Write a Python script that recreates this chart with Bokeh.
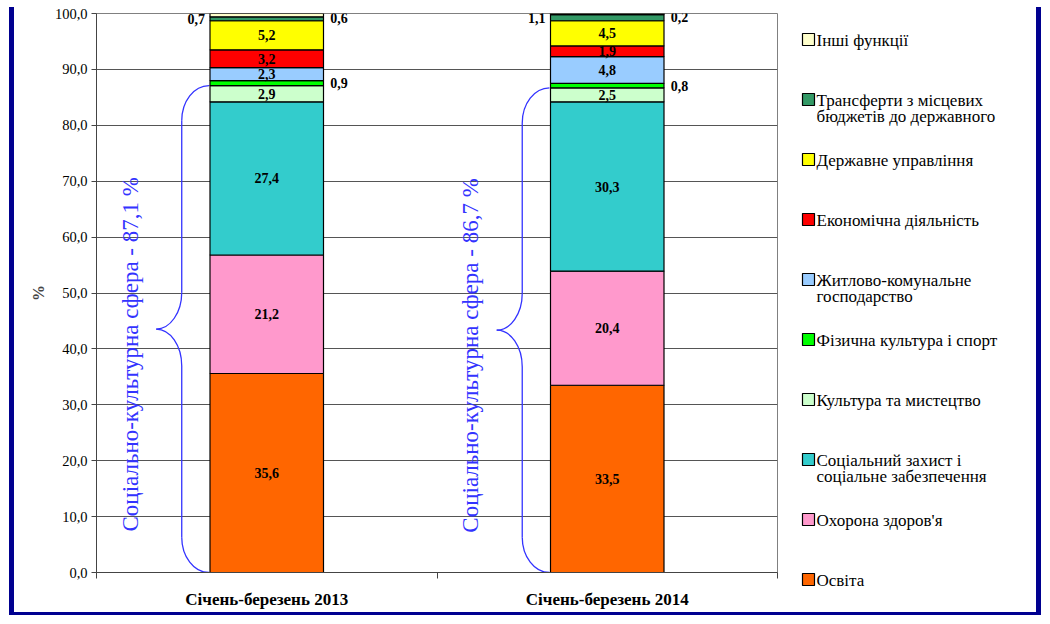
import math
from bokeh.plotting import figure
from bokeh.layouts import row, column
from bokeh.models import ColumnDataSource, FixedTicker, Range1d, Spacer
from bokeh.core.properties import value
from bokeh.embed import file_html
from bokeh.resources import INLINE

# ---------------- data ----------------
categories = ["Січень-березень 2013", "Січень-березень 2014"]
series = [
    "Освіта",
    "Охорона здоров'я",
    "Соціальний захист і\nсоціальне забезпечення",
    "Культура та мистецтво",
    "Фізична культура і спорт",
    "Житлово-комунальне\nгосподарство",
    "Економічна діяльність",
    "Державне управління",
    "Трансферти з місцевих\nбюджетів до державного",
    "Інші функції",
]
v2013 = [35.6, 21.2, 27.4, 2.9, 0.9, 2.3, 3.2, 5.2, 0.7, 0.6]
v2014 = [33.5, 20.4, 30.3, 2.5, 0.8, 4.8, 1.9, 4.5, 1.1, 0.2]
colors = ["#FF6600", "#FF99CC", "#33CCCC", "#CCFFCC", "#00FF00",
          "#99CCFF", "#FF0000", "#FFFF00", "#339966", "#FFFFCC"]
y_ticks = [0, 10, 20, 30, 40, 50, 60, 70, 80, 90, 100]
social_count = 4  # first four series form the social-cultural sphere

FONT = value("Liberation Serif")
BLUE = "#3333FF"
NAVY = "#000090"

values = [v2013, v2014]
keys = [f"s{i}" for i in range(len(series))]
xs = [i + 0.5 for i in range(len(categories))]
data = {"x": xs}
for i, k in enumerate(keys):
    data[k] = [values[c][i] for c in range(len(categories))]
source = ColumnDataSource(data)

H = 605
TOPB = 6
BOTB = 40
p = figure(width=773, height=H, x_range=(0, 2), y_range=(0, 100),
           output_backend="svg", toolbar_location=None,
           min_border_left=82, min_border_right=10, min_border_top=TOPB,
           min_border_bottom=BOTB)
p.background_fill_color = "white"
p.border_fill_color = "white"
p.outline_line_color = "#808080"
p.outline_line_width = 1

# grid
p.xgrid.visible = False
p.ygrid.ticker = FixedTicker(ticks=y_ticks)
p.ygrid.grid_line_color = "#555555"
p.ygrid.grid_line_width = 1

# y axis
p.yaxis.ticker = FixedTicker(ticks=y_ticks)
p.yaxis.major_label_overrides = {t: f"{t:.1f}".replace(".", ",") for t in y_ticks}
p.yaxis.major_label_text_font = "Liberation Serif"
p.yaxis.major_label_text_font_size = "14.5px"
p.yaxis.major_label_text_color = "black"
p.yaxis.major_tick_out = 5
p.yaxis.major_tick_in = 0
p.yaxis.minor_tick_line_color = None
p.yaxis.axis_line_color = "#444444"
p.yaxis.major_tick_line_color = "#444444"
p.yaxis.major_label_standoff = 4
p.yaxis.axis_label = "%"
p.yaxis.axis_label_text_font = "Liberation Serif"
p.yaxis.axis_label_text_font_style = "bold"
p.yaxis.axis_label_text_font_size = "16px"
p.yaxis.axis_label_standoff = 5

# x axis
p.xaxis.ticker = FixedTicker(ticks=xs, minor_ticks=[0, 1, 2])
p.xaxis.major_label_overrides = {x: c for x, c in zip(xs, categories)}
p.xaxis.major_label_text_font = "Liberation Serif"
p.xaxis.major_label_text_font_style = "bold"
p.xaxis.major_label_text_font_size = "17px"
p.xaxis.major_label_text_color = "black"
p.xaxis.major_tick_out = 0
p.xaxis.major_tick_in = 0
p.xaxis.minor_tick_out = 6
p.xaxis.minor_tick_in = 0
p.xaxis.minor_tick_line_color = "#444444"
p.xaxis.axis_line_color = "#444444"
p.xaxis.major_label_standoff = 11

# stacked bars
renderers = p.vbar_stack(keys, x="x", width=1 / 3, color=colors, source=source,
                         line_color="black", line_width=1.2)

# value labels
side = {4: "right", 8: "left", 9: "right"}
lab = {"center": ([], [], []), "left": ([], [], []), "right": ([], [], [])}
for c in range(len(categories)):
    cum = 0.0
    for i in range(len(series)):
        v = values[c][i]
        mid = cum + v / 2
        cum += v
        s = side.get(i, "center")
        if s == "center":
            x = xs[c]
        elif s == "left":
            x = xs[c] - 1 / 6 - 0.015
        else:
            x = xs[c] + 1 / 6 + 0.02
        if i == 9:
            mid -= 0.45
        lab[s][0].append(x)
        lab[s][1].append(mid)
        lab[s][2].append(f"{v:.1f}".replace(".", ","))
for s, al in (("center", "center"), ("left", "right"), ("right", "left")):
    p.text(x=lab[s][0], y=lab[s][1], text=lab[s][2], text_font=FONT,
           text_font_style="bold", text_font_size="14px", text_align=al,
           text_baseline="middle", text_color="black")

# braces for the social-cultural sphere
for c in range(len(categories)):
    S = sum(values[c][:social_count])
    L = xs[c] - 1 / 6
    xe = L - 0.003
    xv = L - 0.083
    xt = L - 0.158
    h = 6.3
    m = S / 2
    h2 = 6.6
    k = 0.552
    dx = xe - xv
    dt = xv - xt
    p.bezier(x0=[xe, xv, xv, xv],
             y0=[S, m + h2, m - h2, h],
             x1=[xv, xt, xt, xe],
             y1=[S - h, m, m, 0],
             cx0=[xe - k * dx, xv, xv, xv],
             cy0=[S, m + h2 - k * h2, m - h2 + k * h2, h - k * h],
             cx1=[xv, xt + k * dt, xt + k * dt, xe - k * dx],
             cy1=[S - h + k * h, m, m, 0],
             line_color=BLUE, line_width=1.3)
    p.segment(x0=[xv, xv], y0=[S - h, m - h2], x1=[xv, xv], y1=[m + h2, h],
              line_color=BLUE, line_width=1.3)
    txt = "Соціально-культурна сфера  - " + f"{S:.1f}".replace(".", ",") + " %"
    p.text(x=[L - 0.234], y=[m - 4.0], text=[txt], angle=math.pi / 2,
           text_font=FONT, text_font_size="23px", text_align="center",
           text_baseline="middle", text_color=BLUE)

# ---------------- legend panel ----------------
LW = 249
lg = figure(width=LW, height=H, x_range=Range1d(0, LW), y_range=Range1d(H, 0),
            output_backend="svg", toolbar_location=None,
            x_axis_location=None, y_axis_location=None,
            min_border=0, min_border_left=0, min_border_right=0,
            min_border_top=0, min_border_bottom=0)
lg.frame_align = False
lg.outline_line_color = None
lg.xgrid.visible = False
lg.ygrid.visible = False
lg.background_fill_color = "white"
lg.border_fill_color = "white"

order = list(range(len(series)))[::-1]
n = len(order)
leg_src = ColumnDataSource(dict(
    x=[21] * n,
    y=[32 + 60 * r for r in range(n)],
    ty=[32 + 60 * r - 9 for r in range(n)],
    tx=[29] * n,
    color=[colors[i] for i in order],
    label=[series[i] for i in order],
))
lg.rect(x="x", y="y", width=12, height=12, fill_color="color",
        line_color="black", line_width=1.2, source=leg_src)
lg.text(x="tx", y="ty", text="label", text_font=FONT, text_font_size="17px",
        text_baseline="top", text_align="left", text_color="black",
        text_line_height=0.85, source=leg_src)

# ---------------- frame (navy border) ----------------
def bar(w, h, color=None):
    st = {"background-color": color} if color else {}
    return Spacer(width=w, height=h, styles=st)

top_gap = row(bar(1041, 7), spacing=0)
main = row(bar(9, H), bar(5, H, NAVY), p, lg, bar(5, H, NAVY), spacing=0)
bottom = row(bar(9, 3), bar(1032, 3, NAVY), spacing=0)
layout = column(top_gap, main, bottom, spacing=0)

open("out.html", "w").write(file_html(layout, INLINE))
